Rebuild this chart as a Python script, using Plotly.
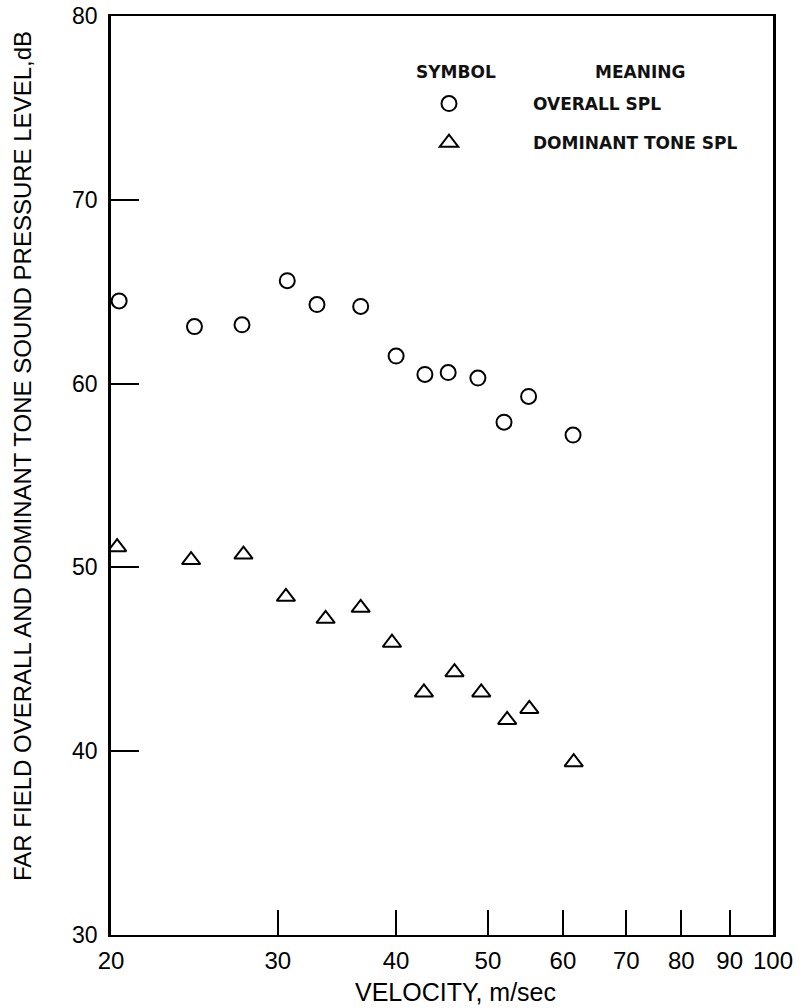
import plotly.graph_objects as go

# Overall SPL (circles)
overall_velocity = [20.4, 24.5, 27.5, 30.7, 33.0, 36.7, 40.0, 42.9, 45.4, 48.8, 52.0, 55.2, 61.5]
overall_spl = [64.5, 63.1, 63.2, 65.6, 64.3, 64.2, 61.5, 60.5, 60.6, 60.3, 57.9, 59.3, 57.2]

# Dominant tone SPL (triangles)
tone_velocity = [20.3, 24.3, 27.6, 30.6, 33.7, 36.7, 39.6, 42.8, 46.1, 49.2, 52.4, 55.3, 61.6]
tone_spl = [51.1, 50.4, 50.7, 48.4, 47.2, 47.8, 45.9, 43.2, 44.3, 43.2, 41.7, 42.3, 39.4]

x_ticks = [20, 30, 40, 50, 60, 70, 80, 90, 100]
y_ticks = [30, 40, 50, 60, 70, 80]

SANS = "Liberation Sans, Arial, sans-serif"
LEG = "DejaVu Sans, sans-serif"

W, H = 806, 1008
ML, MR, MT, MB = 111, 33, 16, 73
PW, PH = W - ML - MR, H - MT - MB


def px(xp):
    return (xp - ML) / PW


def py(yp):
    return 1 - (yp - MT) / PH


fig = go.Figure()
fig.add_trace(go.Scatter(
    x=overall_velocity, y=overall_spl, mode="markers", name="OVERALL SPL",
    legendgroup="overall",
    marker=dict(symbol="circle-open", size=15, color="black", line=dict(width=2, color="black")),
))
fig.add_trace(go.Scatter(
    x=tone_velocity, y=tone_spl, mode="markers", name="DOMINANT TONE SPL",
    legendgroup="tone",
    marker=dict(symbol="triangle-up-open", size=16, color="black", line=dict(width=2, color="black")),
))

fig.update_layout(
    width=W, height=H,
    paper_bgcolor="white", plot_bgcolor="white",
    margin=dict(l=ML, r=MR, t=MT, b=MB),
    showlegend=True,
    legend=dict(
        x=px(365), y=py(86), xanchor="left", yanchor="top",
        bgcolor="rgba(0,0,0,0)", itemwidth=158,
        font=dict(family=LEG, size=17, color="#111", weight="bold"),
        tracegroupgap=14, itemclick=False, itemdoubleclick=False,
    ),
    annotations=[
        dict(text="<b>SYMBOL</b>", xref="paper", yref="paper", x=px(456), y=py(72),
             xanchor="center", yanchor="middle", showarrow=False,
             font=dict(family=LEG, size=17, color="#111")),
        dict(text="<b>MEANING</b>", xref="paper", yref="paper", x=px(640), y=py(72),
             xanchor="center", yanchor="middle", showarrow=False,
             font=dict(family=LEG, size=17, color="#111")),
        dict(text="FAR FIELD OVERALL AND DOMINANT TONE SOUND PRESSURE LEVEL,dB",
             xref="paper", yref="paper", x=px(22), y=py(456), textangle=-90,
             xanchor="center", yanchor="middle", showarrow=False,
             font=dict(family=SANS, size=24, color="black")),
        dict(text="VELOCITY, m/sec",
             xref="paper", yref="paper", x=px(455), y=py(992),
             xanchor="center", yanchor="middle", showarrow=False,
             font=dict(family=SANS, size=25, color="black")),
    ],
)

fig.update_xaxes(
    type="log", range=[1.30103, 2.0], automargin=False,
    tickvals=x_ticks, ticktext=[str(v) for v in x_ticks],
    ticks="inside", ticklen=25, tickwidth=1.5, tickcolor="black",
    showline=True, linecolor="black", linewidth=2, mirror=True,
    showgrid=False, zeroline=False,
    tickfont=dict(family=SANS, size=24, color="black"),
    ticklabelstandoff=3, ticklabeloverflow="allow",
)
fig.update_yaxes(
    range=[30, 80], automargin=False,
    tickvals=y_ticks, ticktext=[str(v) for v in y_ticks],
    ticks="inside", ticklen=28, tickwidth=1.5, tickcolor="black",
    showline=True, linecolor="black", linewidth=2.5, mirror=True,
    showgrid=False, zeroline=False,
    tickfont=dict(family=SANS, size=23, color="black"),
    ticklabelstandoff=6, ticklabeloverflow="allow",
)

# remove the browser's default 8px body margin so the figure fills the window
fig.write_html(
    "out.html",
    config={"displayModeBar": False},
    post_script="document.body.style.margin='0px';document.body.style.overflow='hidden';",
)
